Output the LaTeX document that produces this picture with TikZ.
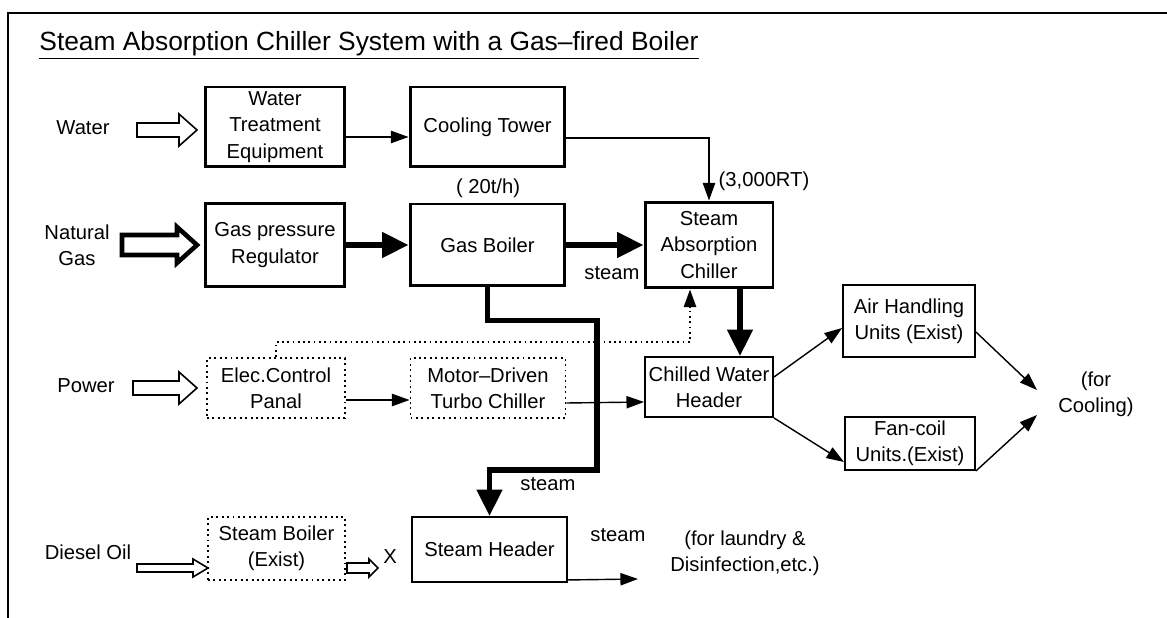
\documentclass[tikz,border=0pt]{standalone}
\usepackage{fontspec}
\setmainfont{Liberation Sans}
\usetikzlibrary{arrows.meta,calc,positioning}

% hollow block arrow: options, tail x, y, length, head length, head half, shaft half
\newcommand\feedarrow[7]{%
  \draw[#1] (#2,{#3-#7}) -- ({#2+#4-#5},{#3-#7}) -- ({#2+#4-#5},{#3-#6})
    -- ({#2+#4},#3) -- ({#2+#4-#5},{#3+#6}) -- ({#2+#4-#5},{#3+#7})
    -- (#2,{#3+#7}) -- cycle;}

\begin{document}
\begin{tikzpicture}[x=0.02cm,y=-0.02cm,
    every node/.style={font=\fontsize{11.5}{15}\selectfont,align=center},
    unit/.style={draw,line width=1.7pt,inner sep=2pt},
    plain/.style={draw,line width=1.1pt,inner sep=2pt},
    exist/.style={draw,line width=1.1pt,dotted,inner sep=2pt},
    flow/.style={line width=0.8pt,-{Triangle[length=10pt,width=7pt]}},
    heavy/.style={line width=3.2pt,-{Triangle[length=15pt,width=14pt]}},
    ctrl/.style={line width=1pt,dotted,-{Triangle[length=10pt,width=7pt]}},
    feed/.style={line width=0.9pt,line join=miter}]
  \useasboundingbox (0,0) rectangle (1167,618);
  \draw[line width=1.2pt] (1167,13) -- (8,13) -- (8,618);
  \node[font=\fontsize{15}{18}\selectfont] (title) at (369,45)
    {\underline{Steam Absorption Chiller System with a Gas--fired Boiler}};

  \node (lblWater) at (83,128) {Water};
  \node (lblGas) at (77,245) {Natural\\Gas};
  \node (lblPower) at (86,386) {Power};
  \node (lblDiesel) at (88,552) {Diesel Oil};

  \feedarrow{feed}{137}{130}{60}{18}{16}{7}
  \feedarrow{feed,line width=2.6pt}{122}{245}{75}{20}{18}{10}
  \feedarrow{feed}{133}{388}{64}{18}{16}{7}
  \feedarrow{feed}{137}{568}{71}{15}{9}{4}
  \feedarrow{feed}{347}{568}{31}{9}{9}{5}

  \node[unit,minimum width=2.8cm,minimum height=1.6cm] (wte) at (275,127)
    {Water\\Treatment\\Equipment};
  \node[unit,minimum width=3.1cm,minimum height=1.6cm] (tower) at (487.5,127)
    {Cooling Tower};
  \node[unit,minimum width=2.8cm,minimum height=1.68cm] (reg) at (275,245)
    {Gas pressure\\Regulator};
  \node[unit,minimum width=3.1cm,minimum height=1.64cm] (boiler) at (487.5,245)
    {Gas Boiler};
  \node[unit,minimum width=2.56cm,minimum height=1.72cm] (absch) at (709,245)
    {Steam\\Absorption\\Chiller};
  \node[exist,minimum width=2.76cm,minimum height=1.2cm] (panel) at (276,388)
    {Elec.Control\\Panal};
  \node[exist,minimum width=3.1cm,minimum height=1.2cm] (turbo) at (488,388)
    {Motor--Driven\\Turbo Chiller};
  \node[plain,minimum width=2.56cm,minimum height=1.2cm] (cwh) at (709,387)
    {Chilled Water\\Header};
  \node[plain,minimum width=2.64cm,minimum height=1.44cm] (ahu) at (909,321)
    {Air Handling\\Units (Exist)};
  \node[plain,minimum width=2.6cm,minimum height=1.06cm] (fcu) at (910,443.5)
    {Fan-coil\\Units.(Exist)};
  \node[exist,minimum width=2.74cm,minimum height=1.26cm] (sboil) at (276.5,548.5)
    {Steam Boiler\\(Exist)};
  \node[plain,minimum width=3.1cm,minimum height=1.3cm] (shdr) at (489.5,549.5)
    {Steam Header};

  \node (rate) at (488,188) {( 20t/h)};
  \node (cap) at (764,181) {(3,000RT)};
  \node (steamA) at (612,273) {steam};
  \node (steamB) at (548,484) {steam};
  \node (steamC) at (618,535) {steam};
  \node (xmark) at (390,557) {X};
  \node (laundry) at (745,553) {(for laundry \&\\Disinfection,etc.)};
  \node (cool) at (1096,394) {(for\\Cooling)};

  \coordinate (bend) at (597,470);
  \coordinate (coolA) at (1037,390);
  \coordinate (coolB) at (1037,415);
  \coordinate (laundryIn) at (638,579);

  \draw[flow] ([yshift=-0.2cm]wte.east) -- ([yshift=-0.2cm]tower.west);
  \draw[flow] ([yshift=-0.22cm]tower.east) -| (absch.north);
  \draw[heavy] (reg.east) -- (boiler.west);
  \draw[heavy] (boiler.east) -- (absch.west);
  \draw[heavy] ($(absch.south)+(31,0)$) -- ($(cwh.north)+(31,0)$);
  \draw[heavy] (boiler.south) -- ++(0,33) -| (bend) -| (shdr.north);
  \draw[ctrl] (panel.north) -- ++(0,-15) -| ($(absch.south)+(-19,0)$);
  \draw[flow] ([yshift=-0.24cm]panel.east) -- ([yshift=-0.24cm]turbo.west);
  \draw[flow] ([yshift=-0.3cm]turbo.east) -- ([yshift=-0.3cm]cwh.west);
  \draw[flow] ([yshift=0.2cm]cwh.east) -- ([yshift=-0.14cm]ahu.west);
  \draw[flow] (cwh.south east) -- ([yshift=-0.37cm]fcu.west);
  \draw[flow] ([yshift=-0.22cm]ahu.east) -- (coolA);
  \draw[flow] (fcu.south east) -- (coolB);
  \draw[flow] ([yshift=0.06cm]shdr.south east) -- (laundryIn);
\end{tikzpicture}
\end{document}
